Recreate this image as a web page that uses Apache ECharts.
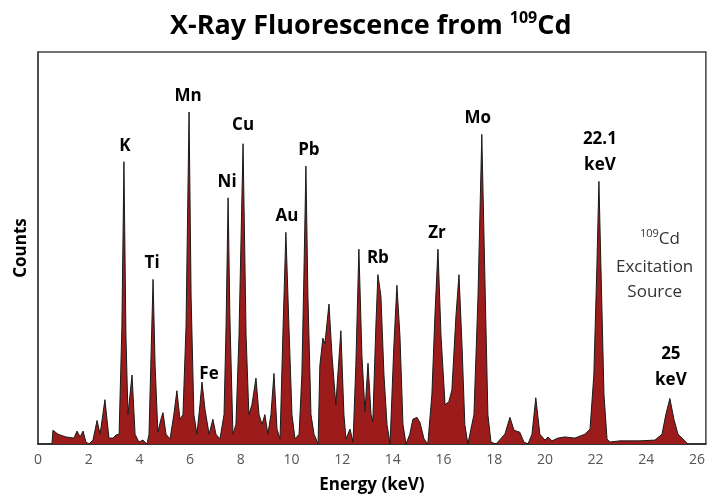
<!DOCTYPE html>
<html>
<head>
<meta charset="utf-8">
<script src="https://cdn.jsdelivr.net/npm/echarts@6/dist/echarts.min.js"></script>
<style>
html,body{margin:0;padding:0;background:#fff;}
#chart{width:708px;height:499px;}
</style>
</head>
<body>
<div id="chart"></div>
<script>
// Spectrum: energy (keV) and counts (relative, 0-100)
var energy = [0.55,0.59,0.79,1.10,1.42,1.54,1.66,1.78,1.89,2.01,2.17,2.33,2.45,2.64,2.80,2.96,3.08,3.20,
  3.31,3.39,3.47,3.55,3.71,3.83,3.98,4.14,4.30,
  4.38,4.46,4.54,4.62,4.73,4.85,4.93,5.05,5.21,5.36,5.48,5.60,
  5.72,5.84,5.96,6.04,6.15,6.27,
  6.39,6.47,6.59,6.75,6.90,7.02,7.18,
  7.34,7.42,7.50,7.57,7.69,7.81,
  7.93,8.09,8.21,8.32,8.44,8.60,8.72,8.84,8.95,9.07,9.19,9.31,9.43,9.55,
  9.66,9.78,9.90,10.02,10.14,10.30,
  10.41,10.49,10.57,10.65,10.77,10.89,10.97,11.05,
  11.12,11.24,11.32,11.48,11.60,11.75,11.83,11.95,12.07,12.15,12.31,12.43,
  12.54,12.66,12.78,12.90,13.02,13.14,13.21,
  13.33,13.41,13.53,13.65,13.77,13.89,
  14.04,14.16,14.28,14.40,14.52,
  14.67,14.79,14.95,15.07,15.23,15.38,
  15.54,15.66,15.78,15.90,16.06,16.21,16.33,16.49,16.61,16.73,16.84,16.96,
  17.20,17.36,17.51,17.63,17.75,17.87,18.07,
  18.42,18.62,18.78,19.01,19.17,19.33,
  19.49,19.64,19.80,20.00,20.12,20.28,20.51,20.79,21.18,21.58,21.78,
  21.93,22.05,22.13,22.21,22.33,22.45,22.56,
  22.96,23.35,23.75,24.34,24.62,24.77,24.93,25.09,25.25,25.44,25.64];
var counts = [0,3.5,2.5,1.8,1.5,3.3,1.8,3.3,0.5,0,1,6,2.5,11.3,1.5,1.5,2.3,2.5,
  30,72,27.6,7.5,17.6,2.5,0.5,1,0,
  2.5,22.6,42,20,3,6.3,8,2.5,1.3,7.5,13.6,6.3,
  7.5,30,84.7,37.7,7.5,2.5,
  10,15.8,8.8,2.5,6.3,2.5,1.3,
  7.5,30,62.8,32.7,2.5,5,
  27.6,76.6,27.6,7.5,10,16.8,7.5,5,7.5,2.5,7.5,18,3.8,1.3,
  27.6,54,30,7.5,1.3,2.5,
  17.6,42.7,70.9,37.7,7.5,2.5,1.3,0,
  20,27,25.6,35.7,22.6,10,17.6,28.9,7.5,1.3,3.8,0.5,
  20,49.7,22.6,8.3,20.6,7.5,5.8,
  30,43.2,37.7,17.6,5,0,
  25,40.5,27.6,5,0,
  2.5,6.3,6.8,5.5,1.3,0,
  12.6,32.7,49.7,27.6,10,10.8,13.8,32.7,43.2,25,5,0,
  7.5,37.7,79,42.7,7.5,0.5,0,
  2.5,6.8,3.5,3,0.5,0,
  2.5,11.8,2.5,1,1.8,0.8,1.5,1.8,1.5,2.5,3.8,
  17.6,45.2,67,45.2,12.6,1.3,0.5,
  0.8,0.8,0.8,1,2.5,7.5,11.6,6.3,2.5,1.3,0];

// Peak labels
var peakNames  = ['K','Ti','Mn','Fe','Ni','Cu','Au','Pb','Rb','Zr','Mo','22.1\nkeV','25\nkeV'];
var peakEnergy = [3.39,4.54,5.96,6.47,7.50,8.09,9.78,10.57,13.41,15.78,17.51,22.13,24.93];
var peakCounts = [72,42,84.7,15.8,62.8,76.6,54,70.9,43.2,49.7,79,67,11.6];

var xTicks = [0,2,4,6,8,10,12,14,16,18,20,22,24,26];

// label offsets (style only)
var labelOffsets = [[1,0],[-1,0],[-1,0],[7,8],[-1,0],[0,-3],[1,0],[3,0],[0,0],[-1,0],[-4,0],[1,0],[1,-2]];

var spectrum = energy.map(function(e,i){return [e,counts[i]];});
var peaks = peakEnergy.map(function(e,i){
  return {value:[e,peakCounts[i]], label:{formatter:peakNames[i], offset:labelOffsets[i]}};
});

var chart = echarts.init(document.getElementById('chart'), null, {renderer:'canvas'});
var font = '"Open Sans", "DejaVu Sans", sans-serif';
chart.setOption({
  animation:false,
  backgroundColor:'#fff',
  title:{
    text:'{a|X-Ray Fluorescence from }{s|109}{a|Cd}',
    left:165, top:5,
    textStyle:{
      rich:{
        a:{fontFamily:font, fontWeight:'bold', fontSize:27, color:'#000', lineHeight:33},
        s:{fontFamily:font, fontWeight:'bold', fontSize:16, color:'#000', lineHeight:16, verticalAlign:'top'}
      }
    }
  },
  grid:{left:38, right:2, top:52, bottom:49, show:true, borderColor:'#444', borderWidth:1.5, backgroundColor:'#fff'},
  xAxis:{
    type:'value', min:0, max:26.35, interval:2,
    axisLine:{show:true, lineStyle:{color:'#222', width:1.5}},
    axisTick:{show:false},
    splitLine:{show:false},
    axisLabel:{color:'#555', fontFamily:font, fontSize:14, margin:9,
      customValues:xTicks},
    name:'Energy (keV)', nameLocation:'middle', nameGap:33,
    nameTextStyle:{fontFamily:font, fontWeight:'bold', fontSize:17, color:'#000'}
  },
  yAxis:{
    type:'value', min:0, max:100,
    axisLine:{show:true, lineStyle:{color:'#444', width:1.5}},
    axisTick:{show:false}, axisLabel:{show:false}, splitLine:{show:false},
    name:'Counts', nameLocation:'middle', nameGap:8, nameRotate:90,
    nameTextStyle:{fontFamily:font, fontWeight:'bold', fontSize:17, color:'#000'}
  },
  series:[
    {
      type:'line', data:spectrum, showSymbol:false, smooth:false,
      lineStyle:{color:'#1a1a1a', width:1},
      areaStyle:{color:'#9c1c1c', opacity:1},
      z:2
    },
    {
      type:'scatter', data:peaks, symbolSize:0, z:5, silent:true,
      itemStyle:{color:'#000'},
      label:{show:true, position:'top', distance:3, fontFamily:font, fontWeight:'bold',
        fontSize:17, color:'#000', opacity:1, lineHeight:26, align:'center'}
    }
  ],
  graphic:[
    {type:'text', left:640, top:228, z:10,
     style:{text:'{s|109}{a|Cd}', rich:{
       s:{fontFamily:font, fontSize:11, fill:'#333', color:'#333', verticalAlign:'top', lineHeight:11},
       a:{fontFamily:font, fontSize:17, fill:'#333', color:'#333', lineHeight:22}}}},
    {type:'text', left:616, top:255, z:10,
     style:{text:'Excitation\nSource', textAlign:'center', fontFamily:font, fontSize:17, fill:'#333', lineHeight:25, align:'center'}}
  ]
});
</script>
</body>
</html>
